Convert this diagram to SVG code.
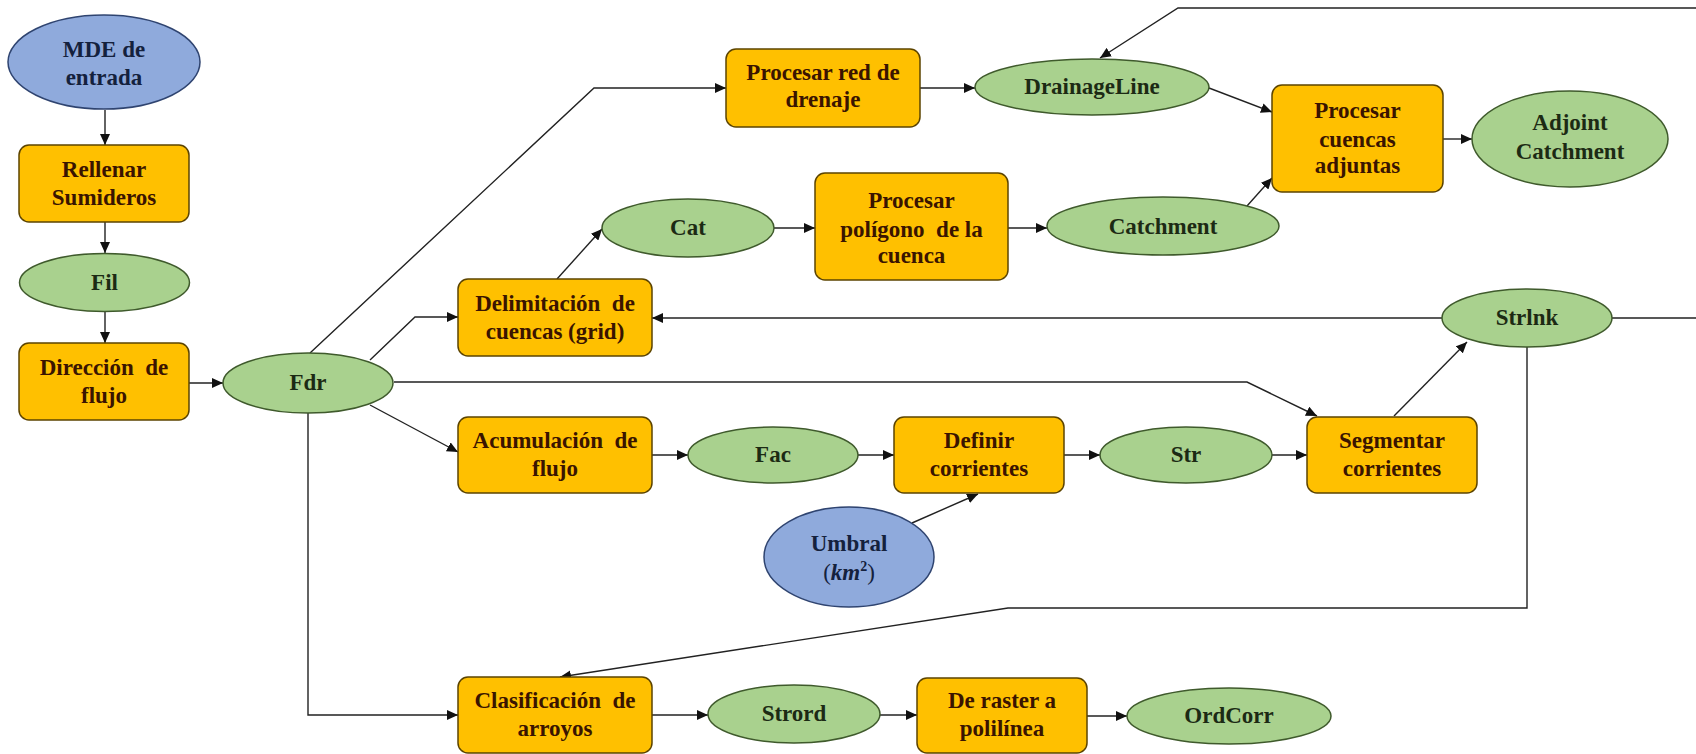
<svg xmlns="http://www.w3.org/2000/svg" width="1696" height="754" viewBox="0 0 1696 754">
<defs>
<marker id="ah" markerUnits="userSpaceOnUse" markerWidth="12" markerHeight="10" refX="11" refY="5" orient="auto">
<path d="M0,0 L11,5 L0,10 z" fill="#111"/>
</marker>
<style>
.box{fill:#FFC000;stroke:#5c4400;stroke-width:1.5}
.grn{fill:#A9D18E;stroke:#3f5a2c;stroke-width:1.5}
.blu{fill:#8FAADC;stroke:#2f4470;stroke-width:1.5}
.t{font-family:"Liberation Serif","Times New Roman",serif;font-weight:bold;font-size:23px;text-anchor:middle}
.tb{fill:#3a1400}
.tg{fill:#1c2a14}
.tu{fill:#14213d}
.c{fill:none;stroke:#222;stroke-width:1.4;marker-end:url(#ah)}
</style>
</defs>
<rect width="1696" height="754" fill="#ffffff"/>

<g id="connectors">
<path class="c" d="M105,110 V145"/>
<path class="c" d="M105,222 V253"/>
<path class="c" d="M105,312 V343"/>
<path class="c" d="M189,383 H223"/>
<path class="c" d="M310,353 L594,88 H726"/>
<path class="c" d="M370,360 L415,317 H458"/>
<path class="c" d="M394,382 H1247 L1317,416"/>
<path class="c" d="M370,405 L458,452"/>
<path class="c" d="M308,413 V715 H458"/>
<path class="c" d="M557,279 L602,229"/>
<path class="c" d="M774,228 H815"/>
<path class="c" d="M1008,228 H1047"/>
<path class="c" d="M1247,206 L1272,178"/>
<path class="c" d="M920,88 H975"/>
<path class="c" d="M1209,88 L1272,112"/>
<path class="c" d="M1443,139 H1472"/>
<path class="c" d="M652,455 H688"/>
<path class="c" d="M858,455 H894"/>
<path class="c" d="M1064,455 H1100"/>
<path class="c" d="M1272,455 H1307"/>
<path class="c" d="M912,523 L978,494"/>
<path class="c" d="M1394,416 L1467,342"/>
<path class="c" d="M1442,318 H652"/>
<path class="c" d="M1612,318 H1720 V8 H1178 L1100,58"/>
<path class="c" d="M1527,347 V608 H1008 L560,677"/>
<path class="c" d="M652,715 H708"/>
<path class="c" d="M880,715 H917"/>
<path class="c" d="M1087,716 H1127"/>
</g>

<g id="mde">
<ellipse class="blu" cx="104" cy="62" rx="96" ry="47"/>
<text class="t tu" x="104" y="57">MDE de</text>
<text class="t tu" x="104" y="85">entrada</text>
</g>
<g id="rellenar">
<rect class="box" x="19" y="145" width="170" height="77" rx="10"/>
<text class="t tb" x="104" y="177">Rellenar</text>
<text class="t tb" x="104" y="205">Sumideros</text>
</g>
<g id="fil">
<ellipse class="grn" cx="104.5" cy="282.5" rx="85" ry="29"/>
<text class="t tg" x="104.5" y="290">Fil</text>
</g>
<g id="direccion">
<rect class="box" x="19" y="343" width="170" height="77" rx="10"/>
<text class="t tb" x="104" y="375" xml:space="preserve">Dirección  de</text>
<text class="t tb" x="104" y="403">flujo</text>
</g>
<g id="fdr">
<ellipse class="grn" cx="308" cy="383" rx="85" ry="30"/>
<text class="t tg" x="308" y="390">Fdr</text>
</g>
<g id="procesar-red">
<rect class="box" x="726" y="49" width="194" height="78" rx="10"/>
<text class="t tb" x="823" y="80">Procesar red de</text>
<text class="t tb" x="823" y="107">drenaje</text>
</g>
<g id="drainageline">
<ellipse class="grn" cx="1092" cy="87" rx="117" ry="28"/>
<text class="t tg" x="1092" y="94">DrainageLine</text>
</g>
<g id="procesar-cuencas">
<rect class="box" x="1272" y="85" width="171" height="107" rx="10"/>
<text class="t tb" x="1357.5" y="118">Procesar</text>
<text class="t tb" x="1357.5" y="147">cuencas</text>
<text class="t tb" x="1357.5" y="173">adjuntas</text>
</g>
<g id="adjoint">
<ellipse class="grn" cx="1570" cy="139" rx="98" ry="48"/>
<text class="t tg" x="1570" y="130">Adjoint</text>
<text class="t tg" x="1570" y="159">Catchment</text>
</g>
<g id="cat">
<ellipse class="grn" cx="688" cy="228" rx="86" ry="29"/>
<text class="t tg" x="688" y="235">Cat</text>
</g>
<g id="procesar-poligono">
<rect class="box" x="815" y="173" width="193" height="107" rx="10"/>
<text class="t tb" x="911.5" y="208">Procesar</text>
<text class="t tb" x="911.5" y="237" xml:space="preserve">polígono  de la</text>
<text class="t tb" x="911.5" y="263">cuenca</text>
</g>
<g id="catchment">
<ellipse class="grn" cx="1163" cy="226" rx="116" ry="29"/>
<text class="t tg" x="1163" y="234">Catchment</text>
</g>
<g id="delimitacion">
<rect class="box" x="458" y="279" width="194" height="77" rx="10"/>
<text class="t tb" x="555" y="311" xml:space="preserve">Delimitación  de</text>
<text class="t tb" x="555" y="339">cuencas (grid)</text>
</g>
<g id="strlnk">
<ellipse class="grn" cx="1527" cy="318" rx="85" ry="29"/>
<text class="t tg" x="1527" y="325">Strlnk</text>
</g>
<g id="acumulacion">
<rect class="box" x="458" y="417" width="194" height="76" rx="10"/>
<text class="t tb" x="555" y="448" xml:space="preserve">Acumulación  de</text>
<text class="t tb" x="555" y="476">flujo</text>
</g>
<g id="fac">
<ellipse class="grn" cx="773" cy="455" rx="85" ry="28"/>
<text class="t tg" x="773" y="462">Fac</text>
</g>
<g id="definir">
<rect class="box" x="894" y="417" width="170" height="76" rx="10"/>
<text class="t tb" x="979" y="448">Definir</text>
<text class="t tb" x="979" y="476">corrientes</text>
</g>
<g id="str">
<ellipse class="grn" cx="1186" cy="455" rx="86" ry="28"/>
<text class="t tg" x="1186" y="462">Str</text>
</g>
<g id="segmentar">
<rect class="box" x="1307" y="417" width="170" height="76" rx="10"/>
<text class="t tb" x="1392" y="448">Segmentar</text>
<text class="t tb" x="1392" y="476">corrientes</text>
</g>
<g id="umbral">
<ellipse class="blu" cx="849" cy="557" rx="85" ry="50"/>
<text class="t tu" x="849" y="551">Umbral</text>
<text class="t tu" x="849" y="580"><tspan font-weight="normal">(</tspan><tspan font-style="italic">km</tspan><tspan font-size="14" dy="-9">2</tspan><tspan font-weight="normal" dy="9">)</tspan></text>
</g>
<g id="clasificacion">
<rect class="box" x="458" y="677" width="194" height="76" rx="10"/>
<text class="t tb" x="555" y="708" xml:space="preserve">Clasificación  de</text>
<text class="t tb" x="555" y="736">arroyos</text>
</g>
<g id="strord">
<ellipse class="grn" cx="794" cy="714" rx="86" ry="29"/>
<text class="t tg" x="794" y="721">Strord</text>
</g>
<g id="deraster">
<rect class="box" x="917" y="678" width="170" height="75" rx="10"/>
<text class="t tb" x="1002" y="708">De raster a</text>
<text class="t tb" x="1002" y="736">polilínea</text>
</g>
<g id="ordcorr">
<ellipse class="grn" cx="1229" cy="716" rx="102" ry="28"/>
<text class="t tg" x="1229" y="723">OrdCorr</text>
</g>
</svg>
